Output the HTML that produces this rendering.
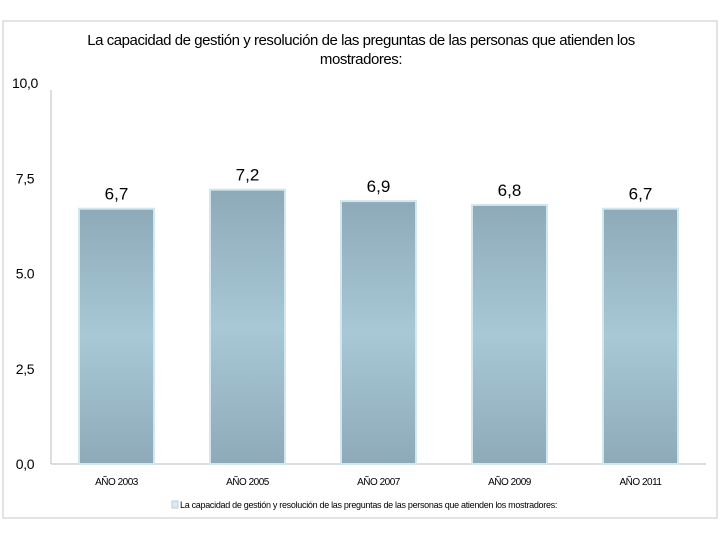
<!DOCTYPE html>
<html><head><meta charset="utf-8"><style>
body{margin:0;background:#fff;}
svg text{font-family:"Liberation Sans",sans-serif;}
</style></head><body>
<svg width="720" height="540">
<defs><linearGradient id="g" x1="0" y1="0" x2="0" y2="1"><stop offset="0" stop-color="#8eaab8"/><stop offset="0.5" stop-color="#a8c8d6"/><stop offset="1" stop-color="#8eaab8"/></linearGradient></defs>
<rect x="3" y="21" width="714" height="497" fill="#fff" stroke="#c8c8c8"/>
<text x="361" y="45" text-anchor="middle" font-size="15" letter-spacing="-0.45">La capacidad de gestión y resolución de las preguntas de las personas que atienden los</text>
<text x="361" y="64" text-anchor="middle" font-size="15" letter-spacing="-0.45">mostradores:</text>
<g id="axes"></g>
<g id="bars"></g>
<rect x="172" y="501" width="6" height="7" fill="#dceaf0" stroke="#b8d0dc"/>
<text x="180" y="508" font-size="9" letter-spacing="-0.3">La capacidad de gestión y resolución de las preguntas de las personas que atienden los mostradores:</text>
</svg>
<script>
const categories=["AÑO 2003","AÑO 2005","AÑO 2007","AÑO 2009","AÑO 2011"];
const values=[6.7,7.2,6.9,6.8,6.7];
const valueLabels=["6,7","7,2","6,9","6,8","6,7"];
const ticks=[0,2.5,5,7.5,10];
const tickLabels=["0,0","2,5","5.0","7,5","10,0"];
const NS="http://www.w3.org/2000/svg";
const x0=51,x1=706,yb=464,yt=83;
const y=v=>yb-(yb-yt)*v/10;
const bw=(x1-x0)/categories.length;
const xc=i=>x0+bw*(i+0.5);
function mk(t,a,p){const e=document.createElementNS(NS,t);for(const k in a)e.setAttribute(k,a[k]);p.appendChild(e);return e;}
const ax=document.getElementById('axes'),bg=document.getElementById('bars');
let l=mk('line',{x1:x0,y1:90,x2:x0,y2:yb,stroke:'#bbb'},ax);


l=mk('line',{x1:x0,y1:yb,x2:x1,y2:yb,stroke:'#bbb'},ax);


ticks.forEach((t,i)=>{const e=mk('text',{x:25,y:y(t)+5,'text-anchor':'middle','font-size':14,'letter-spacing':'-0.3'},ax);e.textContent=tickLabels[i];

});
categories.forEach((c,i)=>{
const r=mk('rect',{x:xc(i)-37.5,y:y(values[i]),width:75,height:yb-y(values[i]),fill:'url(#g)',stroke:'#d2e6ee','stroke-width':2},bg);


const v=mk('text',{x:xc(i),y:y(values[i])-9,'text-anchor':'middle','font-size':17},bg);v.textContent=valueLabels[i];


const t=mk('text',{x:xc(i),y:485,'text-anchor':'middle','font-size':10,'letter-spacing':'-0.5'},bg);t.textContent=c;


});
</script>
</body></html>
